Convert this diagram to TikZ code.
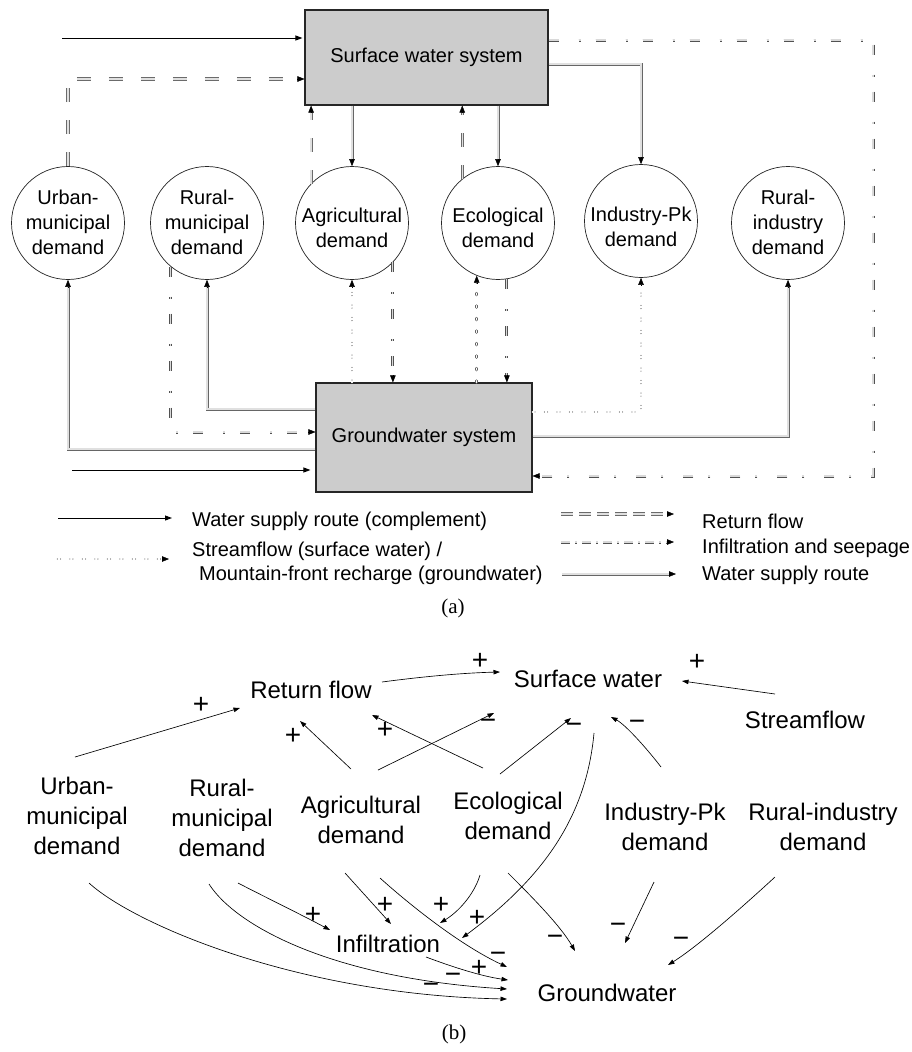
\documentclass[tikz,border=0pt]{standalone}
\usepackage{fontspec}
\setmainfont{Liberation Sans}
\newfontfamily\capfont{Liberation Serif}
\usetikzlibrary{arrows.meta,calc}
\definecolor{boxgray}{RGB}{204,204,204}
\begin{document}
\begin{tikzpicture}[x=1pt,y=-1pt,
  sysbox/.style={draw=black!85, line width=1.1pt, fill=boxgray, inner sep=0pt, font=\fontsize{20}{24}\selectfont},
  dem/.style={circle, draw=black!85, line width=0.7pt, fill=white, minimum size=113pt, inner sep=0pt},
  demtxt/.style={align=center, inner sep=0pt, font=\fontsize{20}{25}\selectfont},
  compl/.style={draw=black, line width=0.9pt, -{Triangle[length=7pt,width=5pt]}},
  headseg/.style={draw=black, line width=0.4pt, -{Triangle[length=7pt,width=5.5pt]}},
  supply/.style={draw=black!60, line width=0.9pt, double=black!12, double distance=1.2pt},
  retflow/.style={draw=black!58, line width=0.9pt, double=black!12, double distance=1.4pt, dash pattern=on 14pt off 18pt},
  infil/.style={draw=black!68, line width=0.9pt, double=black!15, double distance=1.2pt, dash pattern=on 10pt off 20pt on 2pt off 15pt},
  stream/.style={draw=black!62, line width=0.7pt, double=white, double distance=1.2pt, line cap=round, dash pattern=on 1.8pt off 10.7pt},
  legtxt/.style={anchor=west, inner sep=0pt, font=\fontsize{20}{24}\selectfont},
  capt/.style={inner sep=0pt, font=\capfont\fontsize{21}{24}\selectfont},
  cld/.style={align=center, inner sep=0pt, font=\fontsize{24}{30}\selectfont},
  cl/.style={draw=black, line width=0.65pt, -{Triangle[length=6.5pt,width=4.5pt]}},
  sgn/.style={inner sep=0pt, font=\fontsize{28}{30}\selectfont},
]
\useasboundingbox (0,0) rectangle (912,1052);
\fill[white] (0,0) rectangle (912,1052);

% ---------------- (a) ----------------
\node[sysbox, minimum width=243pt, minimum height=95pt] (sw) at (426.5,57.5) {Surface water system};
\node[sysbox, minimum width=216pt, minimum height=109pt] (gw) at (424,437.5) {Groundwater system};

\node[dem] (urb) at (68,223) {};
\node[dem] (rum) at (207,223) {};
\node[dem] (agr) at (352,223) {};
\node[dem] (eco) at (498,223) {};
\node[dem] (ipk) at (641,221) {};
\node[dem] (rin) at (788,223) {};
\node[demtxt] (urbT) at (68,222) {Urban-\\municipal\\demand};
\node[demtxt] (rumT) at (207,222) {Rural-\\municipal\\demand};
\node[demtxt] (agrT) at (352,228) {Agricultural\\demand};
\node[demtxt] (ecoT) at (498,228) {Ecological\\demand};
\node[demtxt] (ipkT) at (641,227) {Industry-Pk\\demand};
\node[demtxt] (rinT) at (788,222) {Rural-\\industry\\demand};

% complement supply
\coordinate (cin1) at (62,38);
\draw[compl, shorten >=2pt] (cin1) -- (cin1 -| sw.west);
\coordinate (cin2) at (72,470);
\draw[compl, shorten >=5pt] (cin2) -- (cin2 -| gw.west);

% return flows
\coordinate (rf1) at (68,79);
\coordinate (rf1e) at (sw.west |- rf1);
\draw[retflow, shorten >=5pt] (urb.north) |- (rf1e);
\draw[headseg] ([xshift=-7pt]rf1e) -- (rf1e);
\coordinate (a1) at (agr.136 |- sw.south);
\draw[retflow, shorten >=5pt] (agr.136) -- (a1);
\draw[headseg] ([yshift=-7pt]a1) -- (a1);
\coordinate (e1) at (eco.129 |- sw.south);
\draw[retflow, shorten >=5pt] (eco.129) -- (e1);
\draw[headseg] ([yshift=-7pt]e1) -- (e1);

% water supply from surface water
\coordinate (s1) at (sw.south -| agr.north);
\draw[supply, shorten >=5pt] (s1) -- (agr.north);
\draw[headseg] ([yshift=7pt]agr.north) -- (agr.north);
\coordinate (s2) at (sw.south -| eco.north);
\draw[supply, shorten >=5pt] (s2) -- (eco.north);
\draw[headseg] ([yshift=7pt]eco.north) -- (eco.north);
\coordinate (s3) at ([yshift=-6.5pt]sw.east);
\draw[supply, shorten >=5pt] (s3) -| (ipk.north);
\draw[headseg] ([yshift=7pt]ipk.north) -- (ipk.north);

% infiltration from surface water to groundwater
\coordinate (i0) at ([yshift=17.5pt]sw.east);
\coordinate (i1) at (873,40);
\coordinate (i2) at (873,476);
\coordinate (i3) at (i2 -| gw.east);
\draw[infil, shorten >=5pt] (i0) -- (i1) -- (i2) -- (i3);
\draw[headseg] ([xshift=7pt]i3) -- (i3);

% water supply from groundwater
\coordinate (g1) at ([yshift=-11.5pt]gw.west);
\draw[supply, shorten >=5pt] (g1) -| (urb.south);
\draw[headseg] ([yshift=-7pt]urb.south) -- (urb.south);
\coordinate (g2) at ([yshift=28.5pt]gw.west);
\draw[supply, shorten >=5pt] (g2) -| (rum.south);
\draw[headseg] ([yshift=-7pt]rum.south) -- (rum.south);
\coordinate (g9) at ([yshift=1.5pt]gw.east);
\draw[supply, shorten >=5pt] (g9) -| (rin.south);
\draw[headseg] ([yshift=-7pt]rin.south) -- (rin.south);

% infiltration from demands
\coordinate (g3) at ([yshift=5.5pt]gw.west);
\draw[infil, shorten >=5pt] (rum.230) |- (g3);
\draw[headseg] ([xshift=-7pt]g3) -- (g3);
\coordinate (g5) at (agr.-44 |- gw.north);
\draw[infil, shorten >=5pt] (agr.-44) -- (g5);
\draw[headseg] ([yshift=7pt]g5) -- (g5);
\coordinate (g7) at (eco.-81 |- gw.north);
\draw[infil, shorten >=5pt] (eco.-81) -- (g7);
\draw[headseg] ([yshift=7pt]g7) -- (g7);

% streamflow / mountain-front recharge
\coordinate (g4) at (gw.north -| agr.south);
\draw[stream, shorten >=5pt] (g4) -- (agr.south);
\draw[headseg] ([yshift=-7pt]agr.south) -- (agr.south);
\coordinate (g6) at (eco.248 |- gw.north);
\draw[stream, shorten >=5pt] (g6) -- (eco.248);
\draw[headseg] ([yshift=-7pt]eco.248) -- (eco.248);
\coordinate (g8) at ([yshift=25.5pt]gw.east);
\draw[stream, shorten >=5pt] (g8) -| (ipk.south);
\draw[headseg] ([yshift=-7pt]ipk.south) -- (ipk.south);

% legend
\coordinate (L1a) at (58,518); \coordinate (L1b) at (172,518);
\draw[compl] (L1a) -- (L1b);
\node[legtxt] (L1t) at (192,521) {Water supply route (complement)};
\coordinate (L2a) at (58,559); \coordinate (L2b) at (169,559);
\draw[stream, shorten >=5pt] (L2a) -- (L2b);
\draw[headseg] ([xshift=-7pt]L2b) -- (L2b);
\node[legtxt] (L2t) at (192,551) {Streamflow (surface water) /};
\node[legtxt] (L3t) at (199,575) {Mountain-front recharge (groundwater)};
\coordinate (R1a) at (561,514); \coordinate (R1b) at (674,514);
\draw[retflow, dash pattern=on 12pt off 6pt, shorten >=5pt] (R1a) -- (R1b);
\draw[headseg] ([xshift=-7pt]R1b) -- (R1b);
\node[legtxt] (R1t) at (702,521) {Return flow};
\coordinate (R2a) at (561,542); \coordinate (R2b) at (674,542);
\draw[infil, dash pattern=on 9pt off 5pt on 2pt off 5pt, shorten >=5pt] (R2a) -- (R2b);
\draw[headseg] ([xshift=-7pt]R2b) -- (R2b);
\node[legtxt] (R2t) at (702,548) {Infiltration and seepage};
\coordinate (R3a) at (562,574); \coordinate (R3b) at (676,574);
\draw[supply, shorten >=5pt] (R3a) -- (R3b);
\draw[headseg] ([xshift=-7pt]R3b) -- (R3b);
\node[legtxt] (R3t) at (702,575) {Water supply route};
\node[capt] (capa) at (453,608) {(a)};

% ---------------- (b) ----------------
\node[cld] (bRF) at (311,690) {Return flow};
\node[cld] (bSW) at (588,679) {Surface water};
\node[cld] (bSF) at (805,720) {Streamflow};
\node[cld] (bUM) at (77,816) {Urban-\\municipal\\demand};
\node[cld] (bRM) at (222,818) {Rural-\\municipal\\demand};
\node[cld] (bAG) at (361,820) {Agricultural\\demand};
\node[cld] (bEC) at (508,816) {Ecological\\demand};
\node[cld] (bIP) at (665,827) {Industry-Pk\\demand};
\node[cld] (bRI) at (823,827) {Rural-industry\\demand};
\node[cld] (bIN) at (388,944) {Infiltration};
\node[cld] (bGW) at (607,993) {Groundwater};
\node[capt] (capb) at (454,1034) {(b)};

\coordinate (p1s) at (75,757);   \coordinate (p1e) at (240,708);
\coordinate (p2s) at (382,682);  \coordinate (p2e) at (500,672);
\coordinate (p3s) at (775,694);  \coordinate (p3e) at (682,681);
\coordinate (p4s) at (351,769);  \coordinate (p4e) at (300,721);
\coordinate (p5s) at (483,768);  \coordinate (p5e) at (372,715);
\coordinate (p6s) at (378,770);  \coordinate (p6e) at (494,713);
\coordinate (p7s) at (500,774);  \coordinate (p7e) at (571,718);
\coordinate (p8s) at (661,767);  \coordinate (p8e) at (611,717);
\coordinate (p9s) at (594,733);  \coordinate (p9e) at (462,938);
\coordinate (p10s) at (89,883);  \coordinate (p10e) at (507,999);
\coordinate (p11s) at (209,884); \coordinate (p11e) at (507,989);
\coordinate (p12s) at (238,883); \coordinate (p12e) at (330,930);
\coordinate (p13s) at (345,873); \coordinate (p13e) at (391,924);
\coordinate (p14s) at (380,878); \coordinate (p14e) at (507,967);
\coordinate (p15s) at (480,875); \coordinate (p15e) at (440,923);
\coordinate (p16s) at (426,957); \coordinate (p16e) at (508,980);
\coordinate (p17s) at (508,873); \coordinate (p17e) at (575,951);
\coordinate (p18s) at (654,882); \coordinate (p18e) at (625,943);
\coordinate (p19s) at (775,877); \coordinate (p19e) at (668,965);

\draw[cl] (p1s) -- (p1e);
\draw[cl] (p2s) .. controls (420,677) and (460,673) .. (p2e);
\draw[cl] (p3s) -- (p3e);
\draw[cl] (p4s) -- (p4e);
\draw[cl] (p5s) -- (p5e);
\draw[cl] (p6s) -- (p6e);
\draw[cl] (p7s) -- (p7e);
\draw[cl] (p8s) .. controls (648,750) and (626,725) .. (p8e);
\draw[cl] (p9s) .. controls (586,820) and (540,880) .. (p9e);
\draw[cl] (p10s) .. controls (135,925) and (300,995) .. (p10e);
\draw[cl] (p11s) .. controls (235,925) and (330,978) .. (p11e);
\draw[cl] (p12s) .. controls (265,897) and (300,914) .. (p12e);
\draw[cl] (p13s) -- (p13e);
\draw[cl] (p14s) .. controls (410,905) and (460,945) .. (p14e);
\draw[cl] (p15s) .. controls (474,895) and (458,912) .. (p15e);
\draw[cl] (p16s) .. controls (450,966) and (480,976) .. (p16e);
\draw[cl] (p17s) .. controls (530,895) and (560,925) .. (p17e);
\draw[cl] (p18s) -- (p18e);
\draw[cl] (p19s) .. controls (750,900) and (700,945) .. (p19e);

\node[sgn] (q1) at (201,705) {+};
\node[sgn] (q2) at (480,661) {+};
\node[sgn] (q3) at (697,662) {+};
\node[sgn] (q4) at (293,736) {+};
\node[sgn] (q5) at (385,730) {+};
\node[sgn] (q6) at (488,724) {−};
\node[sgn] (q7) at (574,728) {−};
\node[sgn] (q8) at (637,725) {−};
\node[sgn] (q9) at (477,918) {+};
\node[sgn] (q10) at (431,988) {−};
\node[sgn] (q11) at (453,978) {−};
\node[sgn] (q12) at (313,915) {+};
\node[sgn] (q13) at (385,905) {+};
\node[sgn] (q14) at (498,957) {−};
\node[sgn] (q15) at (441,905) {+};
\node[sgn] (q16) at (479,968) {+};
\node[sgn] (q17) at (555,940) {−};
\node[sgn] (q18) at (618,928) {−};
\node[sgn] (q19) at (681,942) {−};
\end{tikzpicture}
\end{document}
